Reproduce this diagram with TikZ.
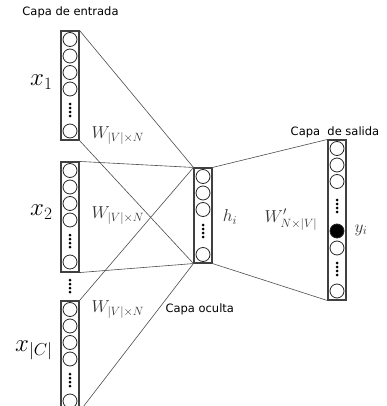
\documentclass[tikz,border=0pt]{standalone}
\usepackage{amsmath, amssymb}
\usepackage{fontspec}
\setsansfont{DejaVu Sans}
\usepackage{tikz}

\tikzset{
  layerbox/.style={draw=black!75, line width=1.1pt, minimum width=18pt, inner sep=0pt},
  neuron/.style={circle, draw=black!85, line width=0.8pt, minimum size=14pt, inner sep=0pt},
  active/.style={neuron, fill=black},
  wire/.style={draw=black!70, line width=0.6pt},
  layername/.style={font=\sffamily\fontsize{11.5}{13}\selectfont},
  bigvar/.style={font=\fontsize{25}{28}\selectfont},
  weightlbl/.style={font=\fontsize{18.5}{20}\selectfont, text=black!80}
}
\newcommand{\neurondots}[2]{% x, y of the top dot
  \foreach \k in {0,1,2,3} \fill (#1,#2+4*\k) circle (1.5pt);}

\begin{document}
\begin{tikzpicture}[x=1pt, y=-1pt]
  \clip (0,0) rectangle (386,406);
  % input layers
  \node[layerbox, minimum height=109pt] (in1) at (70,85.5) {};
  \node[layerbox, minimum height=110pt] (in2) at (70,217) {};
  \node[layerbox, minimum height=110pt] (in3) at (70,356) {};
  \foreach \b/\t in {in1/31, in2/162, in3/301} {
    \foreach \c/\dy in {1/8.5, 2/25, 3/41.5, 4/58, 5/100}
      \node[neuron] (\b-\c) at (70,\t+\dy) {};
    \neurondots{70}{\t+73}
  }
  \neurondots{70}{280}
  % hidden layer
  \node[layerbox, minimum height=95pt] (hid) at (203,215.5) {};
  \foreach \c/\y in {1/176.5, 2/193, 3/209.5, 4/254.5}
    \node[neuron] (hid-\c) at (203,\y) {};
  \neurondots{203}{225}
  % output layer
  \node[layerbox, minimum height=160pt] (out) at (337,220) {};
  \foreach \c/\y in {1/148.5, 2/165, 3/181.5, 5/248, 6/291}
    \node[neuron] (out-\c) at (337,\y) {};
  \node[active] (out-4) at (337,231) {};
  \neurondots{337}{200}
  \neurondots{337}{263}
  % connections
  \draw[wire] (in1.north east) -- (hid.north west);
  \draw[wire] (in1.south east) -- (hid.south west);
  \draw[wire] (in2.north east) -- (hid.north west);
  \draw[wire] (in2.south east) -- (hid.south west);
  \draw[wire] (in3.north east) -- (hid.north west);
  \draw[wire] (in3.south east) -- (hid.south west);
  \draw[wire] (hid.north east) -- (out.north west);
  \draw[wire] (hid.south east) -- (out.south west);
  % labels
  \node[layername] (lblin) at (70.5,12) {Capa de entrada};
  \node[layername, anchor=west] (lblhid) at (162,309) {Capa oculta};
  \node[layername] (lblout) at (335,132) {Capa\ \ de salida};
  \node[bigvar, anchor=east] (x1) at (56,82) {$x_1$};
  \node[bigvar, anchor=east] (x2) at (56,212) {$x_2$};
  \node[bigvar, anchor=east] (xc) at (56,350) {$x_{|C|}$};
  \node[weightlbl, anchor=west] (w1) at (88,136) {$W_{|V|\times N}$};
  \node[weightlbl, anchor=west] (w2) at (88,216) {$W_{|V|\times N}$};
  \node[weightlbl, anchor=west] (w3) at (88,310) {$W_{|V|\times N}$};
  \node[weightlbl] (hi) at (230,217) {$h_i$};
  \node[weightlbl] (wout) at (291,220) {$W'_{N\times|V|}$};
  \node[weightlbl] (yi) at (361,230) {$y_i$};
\end{tikzpicture}
\end{document}
